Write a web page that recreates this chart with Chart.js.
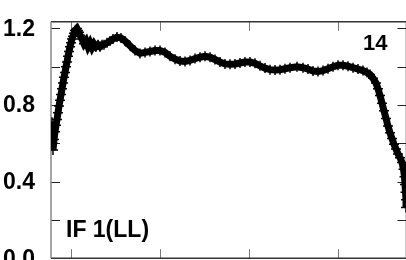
<!DOCTYPE html>
<html>
<head>
<meta charset="utf-8">
<script src="https://cdn.jsdelivr.net/npm/chart.js@4.4.0/dist/chart.umd.min.js"></script>
<style>
  html, body { margin: 0; padding: 0; background: #fff; overflow: hidden; }
  #wrap { width: 420px; height: 280px; }
</style>
</head>
<body>
<div id="wrap"><canvas id="chart" width="420" height="280"></canvas></div>
<script>
// channel numbers and amplitude
const channels = [
  2, 3, 4, 6, 8, 10, 12, 14, 16, 18, 20, 22, 24, 26, 28, 30, 32, 34, 36, 38,
  40, 42, 44, 46, 48, 50, 52, 54, 56, 58, 62, 66, 70, 74, 78, 82, 86, 90, 94, 98,
  102, 106, 112, 118, 124, 132, 140, 148, 158, 168, 178, 188, 198, 208, 218, 228, 238, 248, 258, 268,
  278, 288, 298, 308, 318, 328, 338, 348, 358, 368, 378, 388, 398, 408, 418, 428, 438, 448, 458, 468,
  478, 492, 504, 514, 524, 534, 544, 554, 564, 574, 584, 594, 604, 614, 624, 632, 638, 644, 650, 654,
  658, 662, 666, 670, 674, 678, 682, 686, 690, 694, 698, 702, 705, 707, 708, 709, 710, 710
];
const amplitude = [
  0.71, 0.60, 0.565, 0.62, 0.66, 0.695, 0.725, 0.76, 0.795, 0.825, 0.855, 0.885, 0.915, 0.945, 0.97, 1.0, 1.025, 1.055, 1.08, 1.105,
  1.125, 1.145, 1.16, 1.175, 1.19, 1.195, 1.20, 1.19, 1.18, 1.165, 1.145, 1.12, 1.135, 1.105, 1.125, 1.10, 1.12, 1.105, 1.115, 1.105,
  1.115, 1.115, 1.125, 1.135, 1.145, 1.155, 1.15, 1.135, 1.11, 1.085, 1.07, 1.075, 1.08, 1.085, 1.085, 1.075, 1.055, 1.04, 1.03, 1.028,
  1.033, 1.043, 1.05, 1.055, 1.05, 1.038, 1.025, 1.015, 1.013, 1.015, 1.02, 1.025, 1.025, 1.018, 1.005, 0.993, 0.985, 0.983, 0.985, 0.99,
  0.995, 1.0, 0.995, 0.988, 0.978, 0.975, 0.98, 0.99, 1.0, 1.008, 1.008, 1.003, 0.995, 0.988, 0.98, 0.97, 0.96, 0.94, 0.915, 0.885,
  0.85, 0.81, 0.77, 0.73, 0.69, 0.655, 0.625, 0.595, 0.57, 0.545, 0.525, 0.50, 0.465, 0.425, 0.385, 0.345, 0.305, 0.265
];

const xTicks = [40, 218, 396, 574];
const yTicks = [0, 0.2, 0.4, 0.6, 0.8, 1.0, 1.2];
const yLabels = ['0.0', '', '0.4', '', '0.8', '', '1.2'];
const panelLabel = 'IF 1(LL)';
const panelNumber = '14';

const FONT = '"Liberation Sans", Arial, Helvetica, sans-serif';

const points = channels.map((c, i) => ({ x: c, y: amplitude[i] }));

// frame with inward ticks, like the old plot packages do
const frame = {
  id: 'frame',
  beforeDatasetsDraw(chart) {
    const { ctx, chartArea: a, scales } = chart;
    const tl = 9;
    ctx.save();
    ctx.lineWidth = 1;
    ctx.strokeStyle = '#777';
    xTicks.forEach(v => {
      const px = Math.round(scales.x.getPixelForValue(v)) + 0.5;
      ctx.beginPath();
      ctx.moveTo(px, a.top); ctx.lineTo(px, a.top + tl);
      ctx.moveTo(px, a.bottom); ctx.lineTo(px, a.bottom - tl);
      ctx.stroke();
    });
    ctx.strokeStyle = '#222';
    yTicks.forEach(v => {
      const py = Math.round(scales.y.getPixelForValue(v)) + 0.5;
      ctx.beginPath();
      ctx.moveTo(a.left, py); ctx.lineTo(a.left + tl, py);
      ctx.moveTo(a.right, py); ctx.lineTo(a.right - tl, py);
      ctx.stroke();
    });
    ctx.lineWidth = 1.5;
    ctx.strokeStyle = '#333';
    ctx.beginPath();
    ctx.moveTo(a.left, a.top); ctx.lineTo(a.right, a.top);
    ctx.lineTo(a.right, a.bottom); ctx.lineTo(a.left, a.bottom);
    ctx.stroke();
    ctx.strokeStyle = '#888';
    ctx.beginPath();
    ctx.moveTo(a.left, a.top); ctx.lineTo(a.left, a.bottom);
    ctx.stroke();
    ctx.restore();
  },
  afterDraw(chart) {
    const { ctx, chartArea: a } = chart;
    ctx.save();
    ctx.fillStyle = '#000';
    ctx.font = 'bold 23px ' + FONT;
    ctx.textBaseline = 'alphabetic';
    ctx.textAlign = 'left';
    ctx.fillText(panelLabel, a.left + 15, a.bottom - 21);
    ctx.font = 'bold 22px ' + FONT;
    ctx.textAlign = 'right';
    ctx.fillText(panelNumber, a.right - 19, a.top + 28);
    ctx.restore();
  }
};

new Chart(document.getElementById('chart'), {
  type: 'scatter',
  data: {
    datasets: [
      {
        data: points,
        showLine: true,
        borderColor: '#000',
        backgroundColor: '#000',
        borderWidth: 7,
        tension: 0,
        pointStyle: 'cross',
        pointRadius: 5,
        pointBorderWidth: 1.5,
        pointBorderColor: '#000'
      }
    ]
  },
  options: {
    responsive: false,
    animation: false,
    devicePixelRatio: 1,
    layout: { padding: { left: 0, top: 13, right: 13.5, bottom: 19.5 } },
    plugins: { legend: { display: false }, tooltip: { enabled: false } },
    scales: {
      x: {
        type: 'linear',
        min: 0,
        max: 711,
        display: false
      },
      y: {
        type: 'linear',
        min: 0,
        max: 1.235,
        afterFit: s => { s.width = 51; },
        afterBuildTicks: s => { s.ticks = yTicks.map(v => ({ value: v })); },
        grid: { display: false },
        border: { display: false },
        ticks: {
          padding: 8,
          labelOffset: 1,
          color: '#000',
          font: { family: FONT, size: 23, weight: 'bold' },
          callback: (v, i) => yLabels[i]
        }
      }
    }
  },
  plugins: [frame]
});
</script>
</body>
</html>
